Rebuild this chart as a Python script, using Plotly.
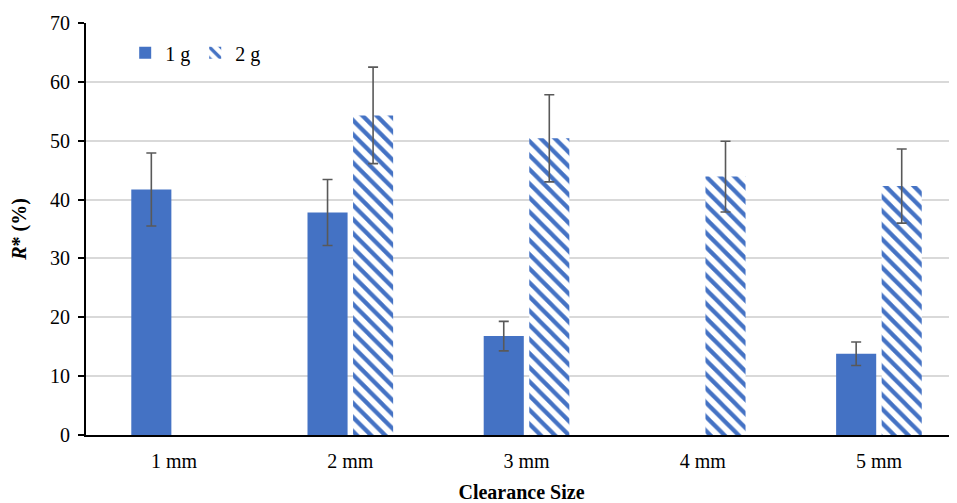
import plotly.graph_objects as go

categories = ["1 mm", "2 mm", "3 mm", "4 mm", "5 mm"]
x_pos = [0, 1, 2, 3, 4]
r_1g = [41.7, 37.8, 16.8, None, 13.8]
err_1g = [6.2, 5.6, 2.5, None, 2.0]
r_2g = [None, 54.3, 50.4, 43.9, 42.3]
err_2g = [None, 8.2, 7.4, 6.0, 6.3]

BLUE = "#4472C4"
ERR = "#595959"
FONT = "Liberation Serif, Times New Roman, serif"

fig = go.Figure()
fig.add_trace(go.Bar(
    x=x_pos, y=r_1g, name="1 g",
    marker=dict(color=BLUE, line=dict(width=0)),
    error_y=dict(type="data", array=err_1g, color=ERR, thickness=1.6, width=5),
))
fig.add_trace(go.Bar(
    x=x_pos, y=r_2g, name="2 g",
    marker=dict(color="white", line=dict(width=0),
                pattern=dict(shape="\\", fgcolor=BLUE, bgcolor="white",
                             size=10, solidity=0.42, fillmode="replace")),
    error_y=dict(type="data", array=err_2g, color=ERR, thickness=1.6, width=5),
))

# page body has an 8px margin, so the figure is sized/offset to fit the 957x503 window
fig.update_layout(
    width=949, height=495,
    margin=dict(l=78, r=0, t=15, b=68, autoexpand=False),
    paper_bgcolor="white", plot_bgcolor="white",
    barmode="group", bargap=0.483, bargroupgap=0.12,
    font=dict(family=FONT, size=20, color="black"),
    legend=dict(orientation="h", x=0.045, y=0.975, xanchor="left", yanchor="top",
                font=dict(size=20, family=FONT), bgcolor="rgba(0,0,0,0)",
                itemwidth=30, tracegroupgap=0),
    showlegend=True,
)
fig.update_xaxes(
    range=[-0.5, 4.443], tickmode="array", tickvals=x_pos, ticktext=categories,
    showline=True, linecolor="black", linewidth=2, showgrid=False, zeroline=False,
    ticks="outside", ticklen=7, tickcolor="rgba(0,0,0,0)",
    tickfont=dict(size=20, family=FONT), automargin=False,
    title=dict(text="<b>Clearance Size</b>", font=dict(size=20, family=FONT), standoff=14),
)
fig.update_yaxes(
    range=[0, 70], dtick=10, showline=True, linecolor="black", linewidth=2,
    showgrid=True, gridcolor="#D9D9D9", gridwidth=1.5, zeroline=False,
    ticks="outside", ticklen=6, tickcolor="black", tickwidth=1.5,
    ticklabelstandoff=4,
    tickfont=dict(size=20, family=FONT), automargin=False,
    title=dict(text="<b><i>R</i>* (%)</b>", font=dict(size=20, family=FONT), standoff=18),
)
fig.write_html("out.html")
